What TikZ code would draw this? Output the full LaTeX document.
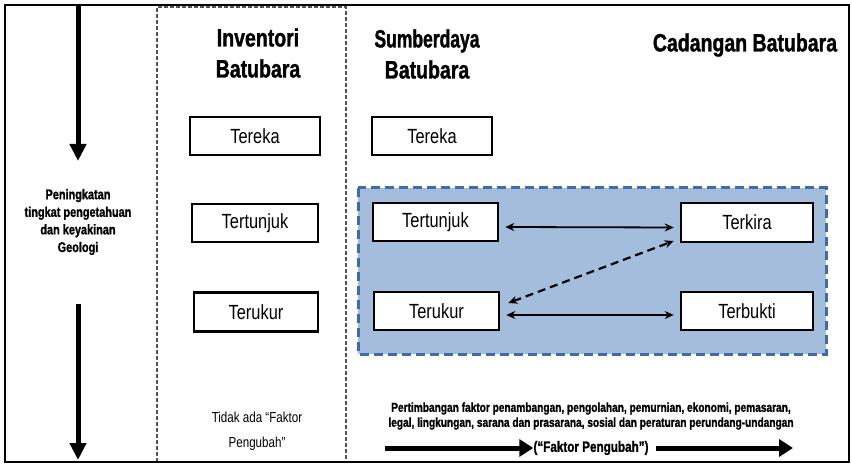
\documentclass[tikz,border=0pt]{standalone}
\usepackage{fontspec}
\setmainfont{Liberation Sans}
\newfontfamily\narrowsans[FakeStretch=0.8]{Liberation Sans}
\newfontfamily\heavysans[FakeStretch=0.78,BoldFeatures={FakeBold=1.2}]{Liberation Sans}
\usetikzlibrary{arrows.meta,calc}
\definecolor{bluefill}{HTML}{A4BDDC}
\definecolor{blueedge}{HTML}{3D6CA6}
\definecolor{grayedge}{HTML}{555555}
\tikzset{
  kotak/.style={draw=black,line width=2.6pt,fill=white,inner sep=0pt,
    font=\narrowsans\fontsize{20.5}{22}\selectfont},
  judul/.style={align=center,font=\heavysans\bfseries\fontsize{25}{31}\selectfont},
  panah/.style={line width=1.8pt,{Stealth[length=9pt,width=8pt]}-{Stealth[length=9pt,width=8pt]}},
  panahputus/.style={panah,line width=2.2pt,dash pattern=on 8pt off 5pt},
  tebal/.style={line width=5pt,-{Triangle[length=17pt,width=16pt]}},
  tebalh/.style={line width=5pt,-{Triangle[length=14pt,width=17pt]}},
}
\begin{document}
\begin{tikzpicture}[x=1pt,y=-1pt]
\useasboundingbox (0,0) rectangle (852,465);
\fill[white] (0,0) rectangle (852,465);
% blue region
\draw[blueedge,fill=bluefill,line width=3pt,dash pattern=on 9pt off 5pt] (358,188) rectangle (826,354);
% inventory dashed column
\draw[grayedge,line width=1.3pt,dash pattern=on 4pt off 2pt] (157,462) -- (157,7) -- (346,7) -- (346,462);
% outer frame
\draw[black,line width=2pt] (5,5) rectangle (849,462);
% left arrows
\coordinate (a1s) at (78,5);
\coordinate (a1e) at (78,161);
\coordinate (a2s) at (78,304);
\coordinate (a2e) at (78,460);
\draw[tebal] (a1s) -- (a1e);
\draw[tebal] (a2s) -- (a2e);
\node[align=center,font=\heavysans\bfseries\fontsize{14}{17.6}\selectfont] (ket) at (78,222)
  {Peningkatan\\tingkat pengetahuan\\dan keyakinan\\Geologi};
% titles
\node[judul] (tinv) at (258,53) {Inventori\\Batubara};
\node[judul] (tsd) at (427,54) {{\addfontfeatures{FakeStretch=0.7}Sumberdaya}\\Batubara};
\node[judul] (tcad) at (745,45) {Cadangan Batubara};
% inventory boxes
\node[kotak,minimum width=130pt,minimum height=38pt] (itereka) at (255,136) {Tereka};
\node[kotak,minimum width=126pt,minimum height=38pt] (itertunjuk) at (255,223) {Tertunjuk};
\node[kotak,minimum width=124pt,minimum height=39pt] (iterukur) at (256,312) {Terukur};
% resource boxes
\node[kotak,minimum width=120pt,minimum height=38pt] (stereka) at (432,136) {Tereka};
\node[kotak,minimum width=125pt,minimum height=38pt] (stertunjuk) at (435.5,222) {Tertunjuk};
\node[kotak,minimum width=125pt,minimum height=38pt] (sterukur) at (436.5,311) {Terukur};
% reserve boxes
\node[kotak,minimum width=132pt,minimum height=39pt] (terkira) at (747,222.5) {Terkira};
\node[kotak,minimum width=132pt,minimum height=38pt] (terbukti) at (747,311) {Terbukti};
% connectors
\draw[panah] ([xshift=6pt,yshift=-5pt]stertunjuk.east) -- ([xshift=-6pt,yshift=-5pt]terkira.west);
\draw[panah] ([xshift=6pt,yshift=-4pt]sterukur.east) -- ([xshift=-6pt,yshift=-4pt]terbukti.west);
\draw[panahputus] ([xshift=8pt,yshift=8pt]sterukur.east) -- ([xshift=-6pt,yshift=-18.5pt]terkira.west);
% bottom texts
\node[align=center,font=\narrowsans\fontsize{14.5}{25}\selectfont] (tidak) at (257,431)
  {Tidak ada “Faktor\\Pengubah”};
\node[align=center,font=\heavysans\bfseries\fontsize{13}{15}\selectfont] (pertim) at (591,416)
  {Pertimbangan faktor penambangan, pengolahan, pemurnian, ekonomi, pemasaran,\\legal, lingkungan, sarana dan prasarana, sosial dan peraturan perundang-undangan};
\node[font=\heavysans\bfseries\fontsize{15}{16}\selectfont,inner sep=0pt] (fp) at (591,448) {(“Faktor Pengubah”)};
\coordinate (b1s) at (385,448);
\coordinate (b2e) at (793,448);
\draw[tebalh] (b1s) -- (fp.west);
\draw[tebalh] ([xshift=7pt]fp.east) -- (b2e);
\end{tikzpicture}
\end{document}
